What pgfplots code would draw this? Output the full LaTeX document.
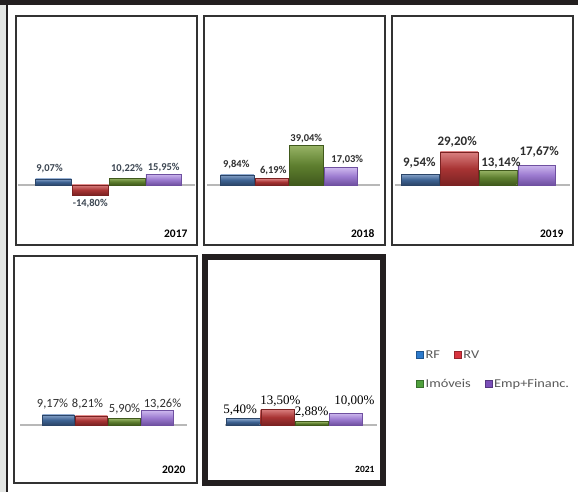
\documentclass[border=0pt]{standalone}
\usepackage{fontspec}
\setmainfont{Carlito}
\newfontfamily\legfont[FakeStretch=1.2]{Carlito}
\newfontfamily\serifl{Liberation Serif}
\usepackage{pgfplots}
\pgfplotsset{compat=1.18}

\definecolor{framec}{HTML}{333333}
\definecolor{darkc}{HTML}{231F20}
\definecolor{stripc}{HTML}{E3E5E3}
\definecolor{basec}{HTML}{B8B8B8}
\definecolor{rfc}{HTML}{3E6393}\definecolor{rfl}{HTML}{86A2C8}\definecolor{rfd}{HTML}{2B4568}
\definecolor{rvc}{HTML}{A83434}\definecolor{rvl}{HTML}{DA8080}\definecolor{rvd}{HTML}{7A2222}
\definecolor{imc}{HTML}{5E7F2F}\definecolor{iml}{HTML}{98B466}\definecolor{imd}{HTML}{40591C}
\definecolor{epc}{HTML}{9C7BD0}\definecolor{epl}{HTML}{CDB8EE}\definecolor{epd}{HTML}{6F50A0}
\definecolor{lrf}{HTML}{2C7ACC}\definecolor{lrv}{HTML}{D8343F}
\definecolor{lim}{HTML}{4FA03C}\definecolor{lep}{HTML}{7B4FB9}
\definecolor{labc}{HTML}{2E2E2E}\definecolor{lab17}{HTML}{3C4652}
\definecolor{legtext}{HTML}{5A5A5A}

\tikzset{year/.style={anchor=base east, font=\bfseries\fontsize{11.5}{13}\selectfont, text=black}}
\pgfplotsset{
  panel/.style={scale only axis, anchor=south west, clip=false,
    xtick=\empty, ytick=\empty,
    axis line style={draw=framec, line width=1.5pt}},
  bar/.style={ybar, bar width=0.97, bar shift=0pt, forget plot,
    point meta=explicit symbolic, nodes near coords,
    every node near coord/.append style={inner sep=1.5pt, anchor=south}},
  lab/.style={every node near coord/.append style={#1}},
  rf/.style={draw=rfd, top color=rfl, bottom color=rfd, middle color=rfc},
  rv/.style={draw=rvd, top color=rvl, bottom color=rvd, middle color=rvc},
  im/.style={draw=imd, top color=iml, bottom color=imd, middle color=imc},
  ep/.style={draw=epd, top color=epl, bottom color=epd, middle color=epc},
  base/.style={basec, line width=1.2pt, forget plot},
  legsq/.style={legend image code/.code={\draw[##1] (0pt,-3.5pt) rectangle (7pt,3.5pt);}},
}

\begin{document}
\begin{tikzpicture}
\useasboundingbox (0pt,0pt) rectangle (578pt,492pt);
\fill[white] (0pt,0pt) rectangle (578pt,492pt);
\fill[stripc] (0pt,0pt) rectangle (6pt,492pt);
\fill[darkc] (6pt,0pt) rectangle (7.5pt,492pt);
\fill[darkc] (0pt,487pt) rectangle (578pt,492pt);

% 2017
\begin{axis}[panel, at={(16pt,247pt)}, width=181pt, height=229pt,
  xmin=-1.020, xmax=3.905, ymin=-88.24, ymax=248.53,
  every node near coord/.append style={font=\bfseries\fontsize{10.5}{12}\selectfont, text=lab17}]
\addplot[base] coordinates {(-0.966,0) (3.851,0)};
\addplot[bar, rf, lab={xshift=-4pt, yshift=4pt}] coordinates {(0,9.07) [9,07\%]};
\addplot[bar, rv, lab={anchor=north, yshift=-2pt}] coordinates {(1,-14.80) [-14,80\%]};
\addplot[bar, im, lab={yshift=3pt}] coordinates {(2,10.22) [10,22\%]};
\addplot[bar, ep, lab={yshift=1pt}] coordinates {(3,15.95) [15,95\%]};
\node[year, xshift=-6pt, yshift=7pt] at (rel axis cs:1,0) {2017};
\end{axis}

% 2018
\begin{axis}[panel, at={(204pt,247pt)}, width=181pt, height=229pt,
  xmin=-0.964, xmax=4.282, ymin=-58.82, ymax=165.69,
  every node near coord/.append style={font=\bfseries\fontsize{10.5}{12}\selectfont, text=labc}]
\addplot[base] coordinates {(-0.877,0) (4.137,0)};
\addplot[bar, rf, lab={xshift=-1pt, yshift=4pt}] coordinates {(0,9.84) [9,84\%]};
\addplot[bar, rv, lab={xshift=1.5pt, yshift=2.5pt}] coordinates {(1,6.19) [6,19\%]};
\addplot[bar, im, lab={yshift=0.5pt}] coordinates {(2,39.04) [39,04\%]};
\addplot[bar, ep, lab={xshift=6.5pt, yshift=2.5pt}] coordinates {(3,17.03) [17,03\%]};
\node[year, xshift=-7pt, yshift=7pt] at (rel axis cs:1,0) {2018};
\end{axis}

% 2019
\begin{axis}[panel, at={(392pt,247pt)}, width=181pt, height=229pt,
  xmin=-0.733, xmax=3.938, ymin=-53.10, ymax=149.56,
  every node near coord/.append style={font=\bfseries\fontsize{13}{15}\selectfont, text=labc}]
\addplot[base] coordinates {(-0.656,0) (3.860,0)};
\addplot[bar, rf, lab={xshift=-1pt, yshift=4pt}] coordinates {(0,9.54) [9,54\%]};
\addplot[bar, rv, lab={xshift=-2pt, yshift=3pt}] coordinates {(1,29.20) [29,20\%]};
\addplot[bar, im, lab={xshift=3pt, yshift=0pt}] coordinates {(2,13.14) [13,14\%]};
\addplot[bar, ep, lab={xshift=2.5pt, yshift=6pt}] coordinates {(3,17.67) [17,67\%]};
\node[year, xshift=-6pt, yshift=7pt] at (rel axis cs:1,0) {2019};
\end{axis}

% 2020
\begin{axis}[panel, at={(14pt,9pt)}, width=183pt, height=227pt,
  xmin=-1.348, xmax=4.197, ymin=-52.73, ymax=153.64,
  every node near coord/.append style={font=\fontsize{12.5}{14}\selectfont, text=labc},
  legend columns=2,
  legend style={at={(2.180,0.564)}, anchor=west, draw=none, fill=none,
    font=\legfont\fontsize{12}{14}\selectfont, text=legtext,
    /tikz/every even column/.append style={column sep=12pt}}]
\addplot[base] coordinates {(-1.166,0) (3.894,0)};
\addplot[bar, rf, lab={xshift=-6pt, yshift=4pt}] coordinates {(0,9.17) [9,17\%]};
\addplot[bar, rv, lab={xshift=-4pt, yshift=5pt}] coordinates {(1,8.21) [8,21\%]};
\addplot[bar, im, lab={yshift=3pt}] coordinates {(2,5.90) [5,90\%]};
\addplot[bar, ep, lab={xshift=5pt, yshift=0pt}] coordinates {(3,13.26) [13,26\%]};
\node[year, xshift=-8pt, yshift=9pt] at (rel axis cs:1,0) {2020};
\addlegendimage{legsq, fill=lrf, draw=lrf!70!black}
\addlegendentry{RF}
\addlegendimage{legsq, fill=lrv, draw=lrv!70!black}
\addlegendentry{RV}
\end{axis}

% 2021
\begin{axis}[panel, at={(205pt,9pt)}, width=178pt, height=226pt,
  axis line style={draw=darkc, line width=6pt},
  xmin=-1.112, xmax=4.085, ymin=-49.57, ymax=143.59,
  every node near coord/.append style={font=\serifl\fontsize{13}{15}\selectfont, text=black},
  legend columns=2,
  legend style={at={(1.169,0.438)}, anchor=west, draw=none, fill=none,
    font=\legfont\fontsize{12}{14}\selectfont, text=legtext,
    /tikz/every even column/.append style={column sep=12pt}}]
\addplot[base] coordinates {(-0.528,0) (3.910,0)};
\addplot[bar, rf, lab={xshift=-3pt, yshift=1.5pt}] coordinates {(0,5.40) [5,40\%]};
\addplot[bar, rv, lab={xshift=3pt, yshift=1.5pt}] coordinates {(1,13.50) [13,50\%]};
\addplot[bar, im, lab={yshift=2pt}] coordinates {(2,2.88) [2,88\%]};
\addplot[bar, ep, lab={xshift=8.5pt, yshift=5pt}] coordinates {(3,10.00) [10,00\%]};
\node[year, font=\bfseries\fontsize{9.5}{11}\selectfont, xshift=-5pt, yshift=10pt] at (rel axis cs:1,0) {2021};
\addlegendimage{legsq, fill=lim, draw=lim!70!black}
\addlegendentry{Imóveis}
\addlegendimage{legsq, fill=lep, draw=lep!70!black}
\addlegendentry{Emp+Financ.}
\end{axis}
\end{tikzpicture}
\end{document}
